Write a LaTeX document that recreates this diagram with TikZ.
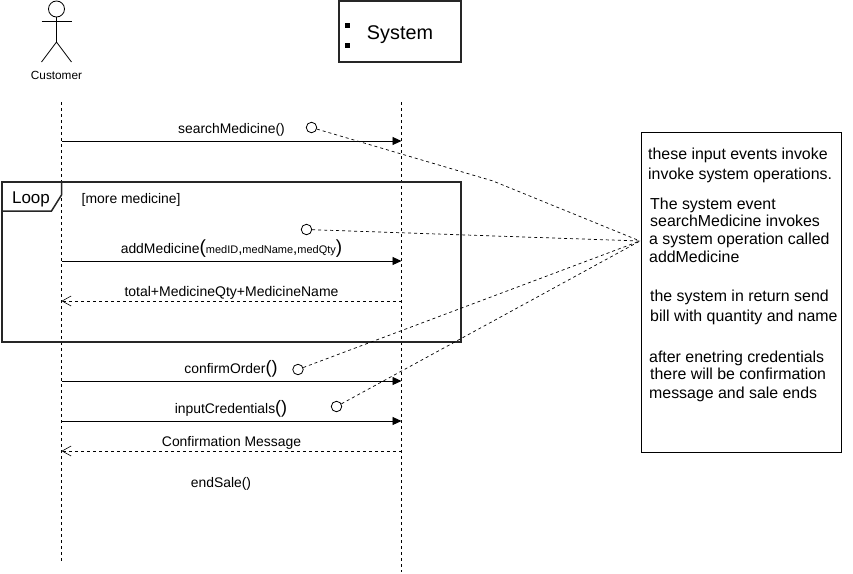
\documentclass[tikz,border=0pt]{standalone}
\usepackage{fontspec}
\setmainfont{Liberation Sans}
\usetikzlibrary{arrows.meta}
\newcommand{\fsz}[1]{\fontsize{#1}{#1}\selectfont}
\tikzset{
  x=1pt,y=-1pt,
  thinline/.style={line width=0.8pt,draw=black},
  frameline/.style={line width=2pt,draw=black!85},
  lifeline/.style={line width=0.8pt,draw=black,dash pattern=on 3pt off 3pt},
  callmsg/.style={line width=0.9pt,draw=black,-{Triangle[length=9pt,width=8pt]}},
  retmsg/.style={line width=0.7pt,draw=black,dash pattern=on 3pt off 3pt,-{Straight Barb[length=9pt,width=10pt,line width=0.6pt]}},
  notelink/.style={line width=0.7pt,draw=black,dash pattern=on 3pt off 3pt},
  anchorcircle/.style={circle,draw=black,line width=0.8pt,fill=white,minimum size=10.5pt,inner sep=0pt},
  msglabel/.style={anchor=base,inner sep=0pt,font=\fsz{13.9}},
  notetext/.style={anchor=base west,inner sep=0pt,font=\fsz{15.9}},
  dot/.style={rectangle,fill=black,minimum size=5pt,inner sep=0pt},
}
\begin{document}
\begin{tikzpicture}
\useasboundingbox (0,0) rectangle (853,573);
\fill[white] (0,0) rectangle (853,573);
% Actor
\node[circle,thinline,draw,minimum size=16pt,inner sep=0pt] (head) at (56.5,9) {};
\coordinate (hip) at (56.5,42);
\coordinate (armL) at (41.5,21);
\coordinate (armR) at (71.5,21);
\coordinate (footL) at (41.5,62);
\coordinate (footR) at (71.5,62);
\draw[thinline] (head.south) -- (hip);
\draw[thinline] (armL) -- (armR);
\draw[thinline] (footL) -- (hip) -- (footR);
\node[anchor=base,inner sep=0pt,font=\fsz{11.8}] (customer) at (56.5,79) {Customer};
% System box
\node[frameline,draw,rectangle,minimum width=122pt,minimum height=61pt,inner sep=0pt] (sysbox) at (400,31.5) {};
\node[anchor=base,inner sep=0pt,font=\fsz{19.8}] (systemlabel) at (400,39) {System};
\node[dot] (d1) at (347.5,25) {};
\node[dot] (d2) at (347.5,45) {};
% Lifelines
\coordinate (custtop) at (61.5,102);
\coordinate (custbot) at (61.5,562);
\coordinate (systop) at (401.5,102);
\coordinate (sysbot) at (401.5,572);
\draw[lifeline] (custtop) -- (custbot);
\draw[lifeline] (systop) -- (sysbot);
% Loop frame
\node[frameline,draw,rectangle,minimum width=459pt,minimum height=160pt,inner sep=0pt] (loopframe) at (231.5,261.5) {};
\coordinate (tabA) at (2,211);
\coordinate (tabB) at (51.5,211);
\coordinate (tabC) at (61.5,195);
\coordinate (tabD) at (61.5,181);
\draw[line width=1.5pt,black!85] (tabA) -- (tabB) -- (tabC) -- (tabD);
\node[anchor=base,inner sep=0pt,font=\fsz{17}] (looplabel) at (31,203) {Loop};
\node[anchor=base west,inner sep=0pt,font=\fsz{13.9}] (guard) at (81.5,203) {[more medicine]};
% Messages
\coordinate (m1a) at (61.5,141); \coordinate (m1b) at (401.5,141);
\coordinate (m2a) at (61.5,261); \coordinate (m2b) at (401.5,261);
\coordinate (m3a) at (401.5,301); \coordinate (m3b) at (61.5,301);
\coordinate (m4a) at (61.5,381); \coordinate (m4b) at (401.5,381);
\coordinate (m5a) at (61.5,421); \coordinate (m5b) at (401.5,421);
\coordinate (m6a) at (401.5,451); \coordinate (m6b) at (61.5,451);
\draw[callmsg] (m1a) -- (m1b);
\draw[callmsg] (m2a) -- (m2b);
\draw[retmsg] (m3a) -- (m3b);
\draw[callmsg] (m4a) -- (m4b);
\draw[callmsg] (m5a) -- (m5b);
\draw[retmsg] (m6a) -- (m6b);
\node[msglabel] (l1) at (231.5,133) {searchMedicine()};
\node[msglabel] (l2) at (231.5,253) {addMedicine{\fsz{19}(}{\fsz{11}medID}{\fsz{15},}{\fsz{11}medName}{\fsz{15},}{\fsz{11}medQty}{\fsz{19})}};
\node[msglabel,font=\fsz{14}] (l3) at (231.5,296) {total+MedicineQty+MedicineName};
\node[msglabel] (l4) at (231,373) {confirmOrder{\fsz{18}()}};
\node[msglabel] (l5) at (231,413) {inputCredentials{\fsz{18}()}};
\node[msglabel] (l6) at (231.5,446) {Confirmation Message};
\node[msglabel] (l7) at (221,487) {endSale()};
% Note
\node[thinline,draw,rectangle,minimum width=200pt,minimum height=320pt,inner sep=0pt] (note) at (741,292) {};
\node[notetext] (n1) at (648,159) {these input events invoke};
\node[notetext] (n2) at (648,179) {invoke system operations.};
\node[notetext] (n3) at (650,209) {The system event};
\node[notetext] (n4) at (650,226) {searchMedicine invokes};
\node[notetext] (n5) at (649,244) {a system operation called};
\node[notetext] (n6) at (649,262) {addMedicine};
\node[notetext] (n7) at (650,301) {the system in return send};
\node[notetext] (n8) at (650,321) {bill with quantity and name};
\node[notetext] (n9) at (649,362) {after enetring credentials};
\node[notetext] (n10) at (650,379) {there will be confirmation};
\node[notetext] (n11) at (649,398) {message and sale ends};
% Note links
\coordinate (hub) at (640,241);
\coordinate (bend) at (493,181);
\node[anchorcircle] (c1) at (311.5,127.5) {};
\node[anchorcircle] (c2) at (306.5,229.5) {};
\node[anchorcircle] (c3) at (298,369.5) {};
\node[anchorcircle] (c4) at (336.5,406.5) {};
\draw[notelink] (c1) -- (bend) -- (hub);
\draw[notelink] (c2) -- (hub);
\draw[notelink] (c3) -- (hub);
\draw[notelink] (c4) -- (hub);
\end{tikzpicture}
\end{document}
